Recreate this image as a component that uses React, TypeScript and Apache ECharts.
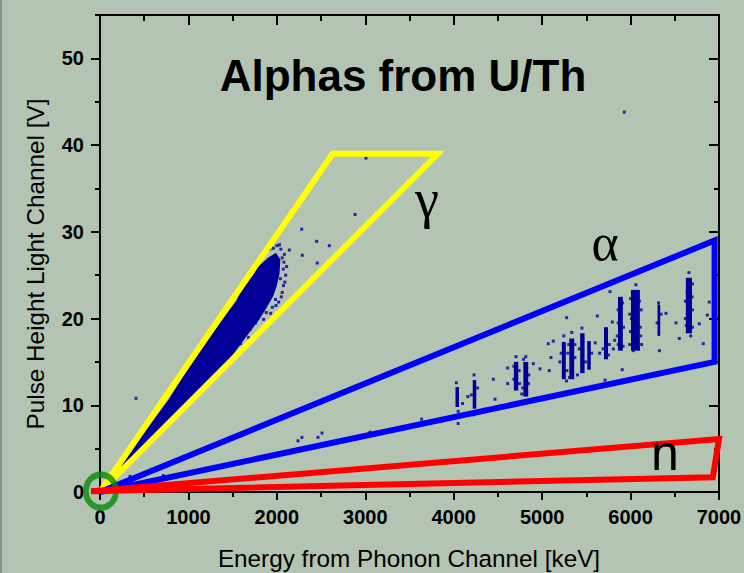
import React, { useEffect, useRef } from "react";
import * as echarts from "echarts";

// ---- data ----
const xTickValues = [0, 1000, 2000, 3000, 4000, 5000, 6000, 7000];
const yTickValues = [0, 10, 20, 30, 40, 50];
const yMinorValues = [5, 15, 25, 35, 45, 55];

// dense gamma band (outline of the saturated point cloud) [keV, V]
const gammaCore: [number, number][] = [
  [0, 0], [772, 10.6], [1131, 16.4], [1546, 22.1], [1621, 24.0], [1715, 24.8],
  [1790, 26.0], [1900, 27.0], [1990, 27.6], [2040, 26.8], [2030, 25.2], [2000, 23.8],
  [1960, 22.6], [1880, 21.2], [1809, 20.0], [1660, 18.0], [1500, 15.8], [1300, 13.4],
  [1000, 10.3], [500, 5.2],
];

// alpha lines: [energy keV, V low, V high, energy spread keV]
const alphaStreaks: [number, number, number, number][] = [
  [4040, 9.8, 12.1, 40], [4235, 9.6, 12.9, 40], [4705, 11.7, 15.0, 50],
  [4815, 11.0, 15.0, 55], [5245, 13.0, 17.3, 45], [5335, 13.0, 17.7, 55],
  [5455, 13.7, 18.3, 50], [5530, 14.1, 17.4, 40], [5722, 15.3, 19.0, 45],
  [5885, 16.3, 22.5, 55], [6055, 16.3, 23.3, 100], [6320, 18.0, 21.6, 30],
  [6660, 18.3, 24.7, 70],
];

// individual events [keV, V]
const events: [number, number][] = [
  [2060, 27.0], [2090, 24.2], [2060, 23.0], [2072, 25.7], [2040, 24.6], [1985, 22.2],
  [1950, 21.3], [1880, 20.7], [1850, 19.9], [1760, 19.5], [1700, 18.8], [2010, 25.9],
  [1935, 23.4], [2080, 26.5], [2045, 28.0], [2000, 28.4], [1960, 28.1], [1680, 17.8],
  [1590, 17.1], [2100, 25.0], [2075, 23.8], [2050, 22.5], [2020, 21.9], [1990, 21.5],
  [1930, 20.6], [2085, 27.4], [2030, 28.5], [2110, 26.0], [1920, 28.0], [1870, 27.6],
  [407, 10.8], [339, 1.8], [716, 1.9], [2141, 27.9], [2281, 30.3], [2288, 27.3],
  [2450, 28.9], [2457, 26.4], [2593, 28.4], [2884, 32.0], [3008, 38.5], [5929, 43.8],
  [2239, 5.9], [2284, 6.3], [2465, 6.3], [2510, 6.8], [3053, 6.9], [3637, 8.4], [4050, 7.9],
  [4100, 10.2], [4160, 11.0], [4050, 9.3], [4030, 12.6],
  [4230, 13.5], [4200, 11.2], [4270, 12.0], [4225, 8.9],
  [4448, 13.0], [4467, 10.7], [4610, 14.3], [4610, 12.5],
  [4680, 13.0], [4740, 14.0], [4780, 12.0], [4850, 13.5], [4705, 15.6], [4815, 15.6],
  [4900, 14.8], [4975, 14.2], [4770, 11.3], [4680, 14.5], [4845, 12.5], [4745, 12.5],
  [4790, 15.3],
  [5070, 17.1], [5126, 17.4], [5080, 14.0], [5100, 15.5], [5200, 15.0], [5290, 16.0],
  [5280, 14.0], [5370, 15.5], [5277, 20.1], [5245, 18.0], [5335, 18.4], [5400, 13.5],
  [5420, 16.5], [5490, 15.0], [5450, 18.9], [5560, 16.0], [5600, 17.2], [5624, 20.3],
  [5650, 16.0], [5300, 17.0], [5215, 16.0], [5370, 17.0], [5310, 13.2], [5275, 12.8],
  [5690, 16.5], [5711, 12.9], [5760, 17.0], [5767, 23.1], [5793, 19.6], [5805, 16.5],
  [5820, 17.5], [5750, 15.8],
  [5906, 14.1], [5850, 18.0], [5920, 19.0], [5860, 21.0], [6010, 20.0], [6110, 19.0],
  [6030, 16.3], [6100, 22.0], [6060, 23.9], [5990, 17.0], [6125, 17.0], [5860, 19.5],
  [5910, 21.8], [5860, 17.0], [5915, 16.8], [5990, 20.5], [6000, 22.3], [6120, 21.0],
  [6115, 18.0], [6000, 18.5], [6020, 23.0], [6090, 16.5],
  [6316, 21.8], [6326, 16.3], [6300, 19.5], [6345, 20.5], [6401, 20.6], [6514, 19.5],
  [6551, 17.7],
  [6620, 20.0], [6700, 21.0], [6680, 18.0], [6640, 23.0], [6700, 24.0], [6660, 25.3],
  [6777, 19.4], [6822, 17.1], [6868, 20.4], [6890, 21.9], [6620, 22.0], [6700, 19.0],
  [6630, 19.2], [6695, 22.5],
];

// selection regions
const gammaBox: [number, number][] = [[0, 0], [2630, 39], [3820, 39]];
const alphaBox: [number, number][] = [[0, 0], [6950, 29], [6950, 15]];
const neutronBox: [number, number][] = [[-100, 0.1], [7000, 6.1], [6930, 1.7]];
const originMark: [number, number][] = [[10, 0.1]];

const FONT = "'Liberation Sans', Arial, Helvetica, sans-serif";
const SERIF = "'Liberation Serif', 'Times New Roman', serif";

function polygonSeries(points: [number, number][], color: string, z: number) {
  return {
    type: "custom",
    clip: false,
    z,
    data: [points[0]],
    renderItem: (_p: any, api: any) => ({
      type: "polygon",
      shape: { points: points.map((p) => api.coord(p)) },
      style: { fill: "none", stroke: color, lineWidth: 6, lineJoin: "miter" },
    }),
  };
}

export default function App() {
  const ref = useRef<HTMLDivElement>(null);
  useEffect(() => {
    if (!ref.current) return;
    const chart = echarts.init(ref.current, null, { renderer: "svg" });
    const axisCommonX = { type: "value", min: 0, max: 7000, splitLine: { show: false } };
    const axisCommonY = { type: "value", min: 0, max: 55, splitLine: { show: false } };
    const tickStyle = { color: "#000", width: 2 };
    const labelStyle = {
      color: "#000", fontSize: 20, fontWeight: "bold", fontFamily: FONT,
      formatter: (v: number) => String(v),
    };
    const option: any = {
      animation: false,
      backgroundColor: "#b4c4b2",
      grid: { left: 100, right: 25, top: 15, bottom: 81, outerBoundsMode: "none", containLabel: false },
      xAxis: [
        {
          ...axisCommonX, position: "bottom", interval: 1000,
          axisLine: { show: true, onZero: false, lineStyle: { color: "#000", width: 2 } },
          axisTick: { show: true, inside: false, length: 8, lineStyle: tickStyle },
          axisLabel: { show: true, margin: 15, ...labelStyle, customValues: xTickValues },
        },
        {
          ...axisCommonX, position: "bottom", interval: 500,
          axisLine: { show: false, onZero: false },
          axisTick: { show: true, inside: false, length: 5, lineStyle: tickStyle },
          axisLabel: { show: false },
        },
        {
          ...axisCommonX, position: "top", interval: 1000,
          axisLine: { show: true, onZero: false, lineStyle: { color: "#000", width: 2 } },
          axisTick: { show: true, inside: true, length: 10, lineStyle: tickStyle },
          axisLabel: { show: false },
        },
        {
          ...axisCommonX, position: "top", interval: 500,
          axisLine: { show: false, onZero: false },
          axisTick: { show: true, inside: true, length: 6, lineStyle: tickStyle },
          axisLabel: { show: false },
        },
      ],
      yAxis: [
        {
          ...axisCommonY, position: "left", interval: 10,
          axisLine: { show: true, onZero: false, lineStyle: { color: "#000", width: 2 } },
          axisTick: { show: true, inside: false, length: 9, lineStyle: tickStyle, customValues: yTickValues },
          axisLabel: { show: true, margin: 16, ...labelStyle, customValues: yTickValues },
        },
        {
          ...axisCommonY, position: "left", interval: 5,
          axisLine: { show: false, onZero: false },
          axisTick: { show: true, inside: false, length: 5, lineStyle: tickStyle, customValues: yMinorValues },
          axisLabel: { show: false },
        },
        {
          ...axisCommonY, position: "right", interval: 10,
          axisLine: { show: true, onZero: false, lineStyle: { color: "#000", width: 2 } },
          axisTick: { show: true, inside: true, length: 10, lineStyle: tickStyle, customValues: yTickValues },
          axisLabel: { show: false },
        },
        {
          ...axisCommonY, position: "right", interval: 5,
          axisLine: { show: false, onZero: false },
          axisTick: { show: true, inside: true, length: 5, lineStyle: tickStyle, customValues: yMinorValues },
          axisLabel: { show: false },
        },
      ],
      graphic: [
        { type: "rect", left: 0, top: 0, shape: { width: 2, height: 573 }, style: { fill: "#8e928e" } },
        {
          type: "text", x: 403, y: 75,
          style: { text: "Alphas from U/Th", fontSize: 44, fontWeight: "bold", fontFamily: FONT, fill: "#000", align: "center", verticalAlign: "middle" },
        },
        {
          type: "text", x: 409, y: 558,
          style: { text: "Energy from Phonon Channel [keV]", fontSize: 24.3, fontFamily: FONT, fill: "#000", align: "center", verticalAlign: "middle" },
        },
        {
          type: "text", x: 35, y: 264, rotation: Math.PI / 2,
          style: { text: "Pulse Height Light Channel [V]", fontSize: 24.3, fontFamily: FONT, fill: "#000", align: "center", verticalAlign: "middle" },
        },
        {
          type: "text", x: 427, y: 199, z: 10,
          style: { text: "γ", fontSize: 54, fontFamily: SERIF, fill: "#000", align: "center", verticalAlign: "middle" },
        },
        {
          type: "text", x: 605, y: 242, z: 10,
          style: { text: "α", fontSize: 52, fontFamily: SERIF, fill: "#000", align: "center", verticalAlign: "middle" },
        },
        {
          type: "text", x: 665, y: 453, z: 10,
          style: { text: "n", fontSize: 50, fontFamily: FONT, fill: "#000", align: "center", verticalAlign: "middle" },
        },
      ],
      series: [
        {
          type: "custom",
          clip: false,
          z: 2,
          data: [gammaCore[0]],
          renderItem: (_p: any, api: any) => ({
            type: "polygon",
            shape: { points: gammaCore.map((p) => api.coord(p)) },
            style: { fill: "#000099" },
          }),
        },
        {
          type: "custom",
          z: 2,
          data: alphaStreaks,
          encode: { x: [0, 3], y: [1, 2] },
          renderItem: (_p: any, api: any) => {
            const xc = api.value(0), y0 = api.value(1), y1 = api.value(2), dx = api.value(3);
            const a = api.coord([xc - dx / 2, y1]);
            const b = api.coord([xc + dx / 2, y0]);
            return {
              type: "rect",
              shape: { x: a[0], y: a[1], width: b[0] - a[0], height: b[1] - a[1] },
              style: { fill: "#000099" },
            };
          },
        },
        {
          type: "scatter",
          z: 2,
          data: events,
          symbol: "rect",
          symbolSize: 3,
          itemStyle: { color: "#000099" },
        },
        polygonSeries(gammaBox, "#ffff00", 3),
        polygonSeries(alphaBox, "#0000ff", 3),
        {
          type: "scatter",
          z: 4,
          data: originMark,
          symbol: "circle",
          symbolSize: [30, 33],
          itemStyle: { color: "rgba(0,0,0,0)", borderColor: "#078a07", borderWidth: 6 },
        },
        polygonSeries(neutronBox, "#ff0000", 5),
      ],
    };
    chart.setOption(option);
    return () => chart.dispose();
  }, []);
  return <div ref={ref} style={{ position: "fixed", left: 0, top: 0, width: 744, height: 573 }} />;
}
